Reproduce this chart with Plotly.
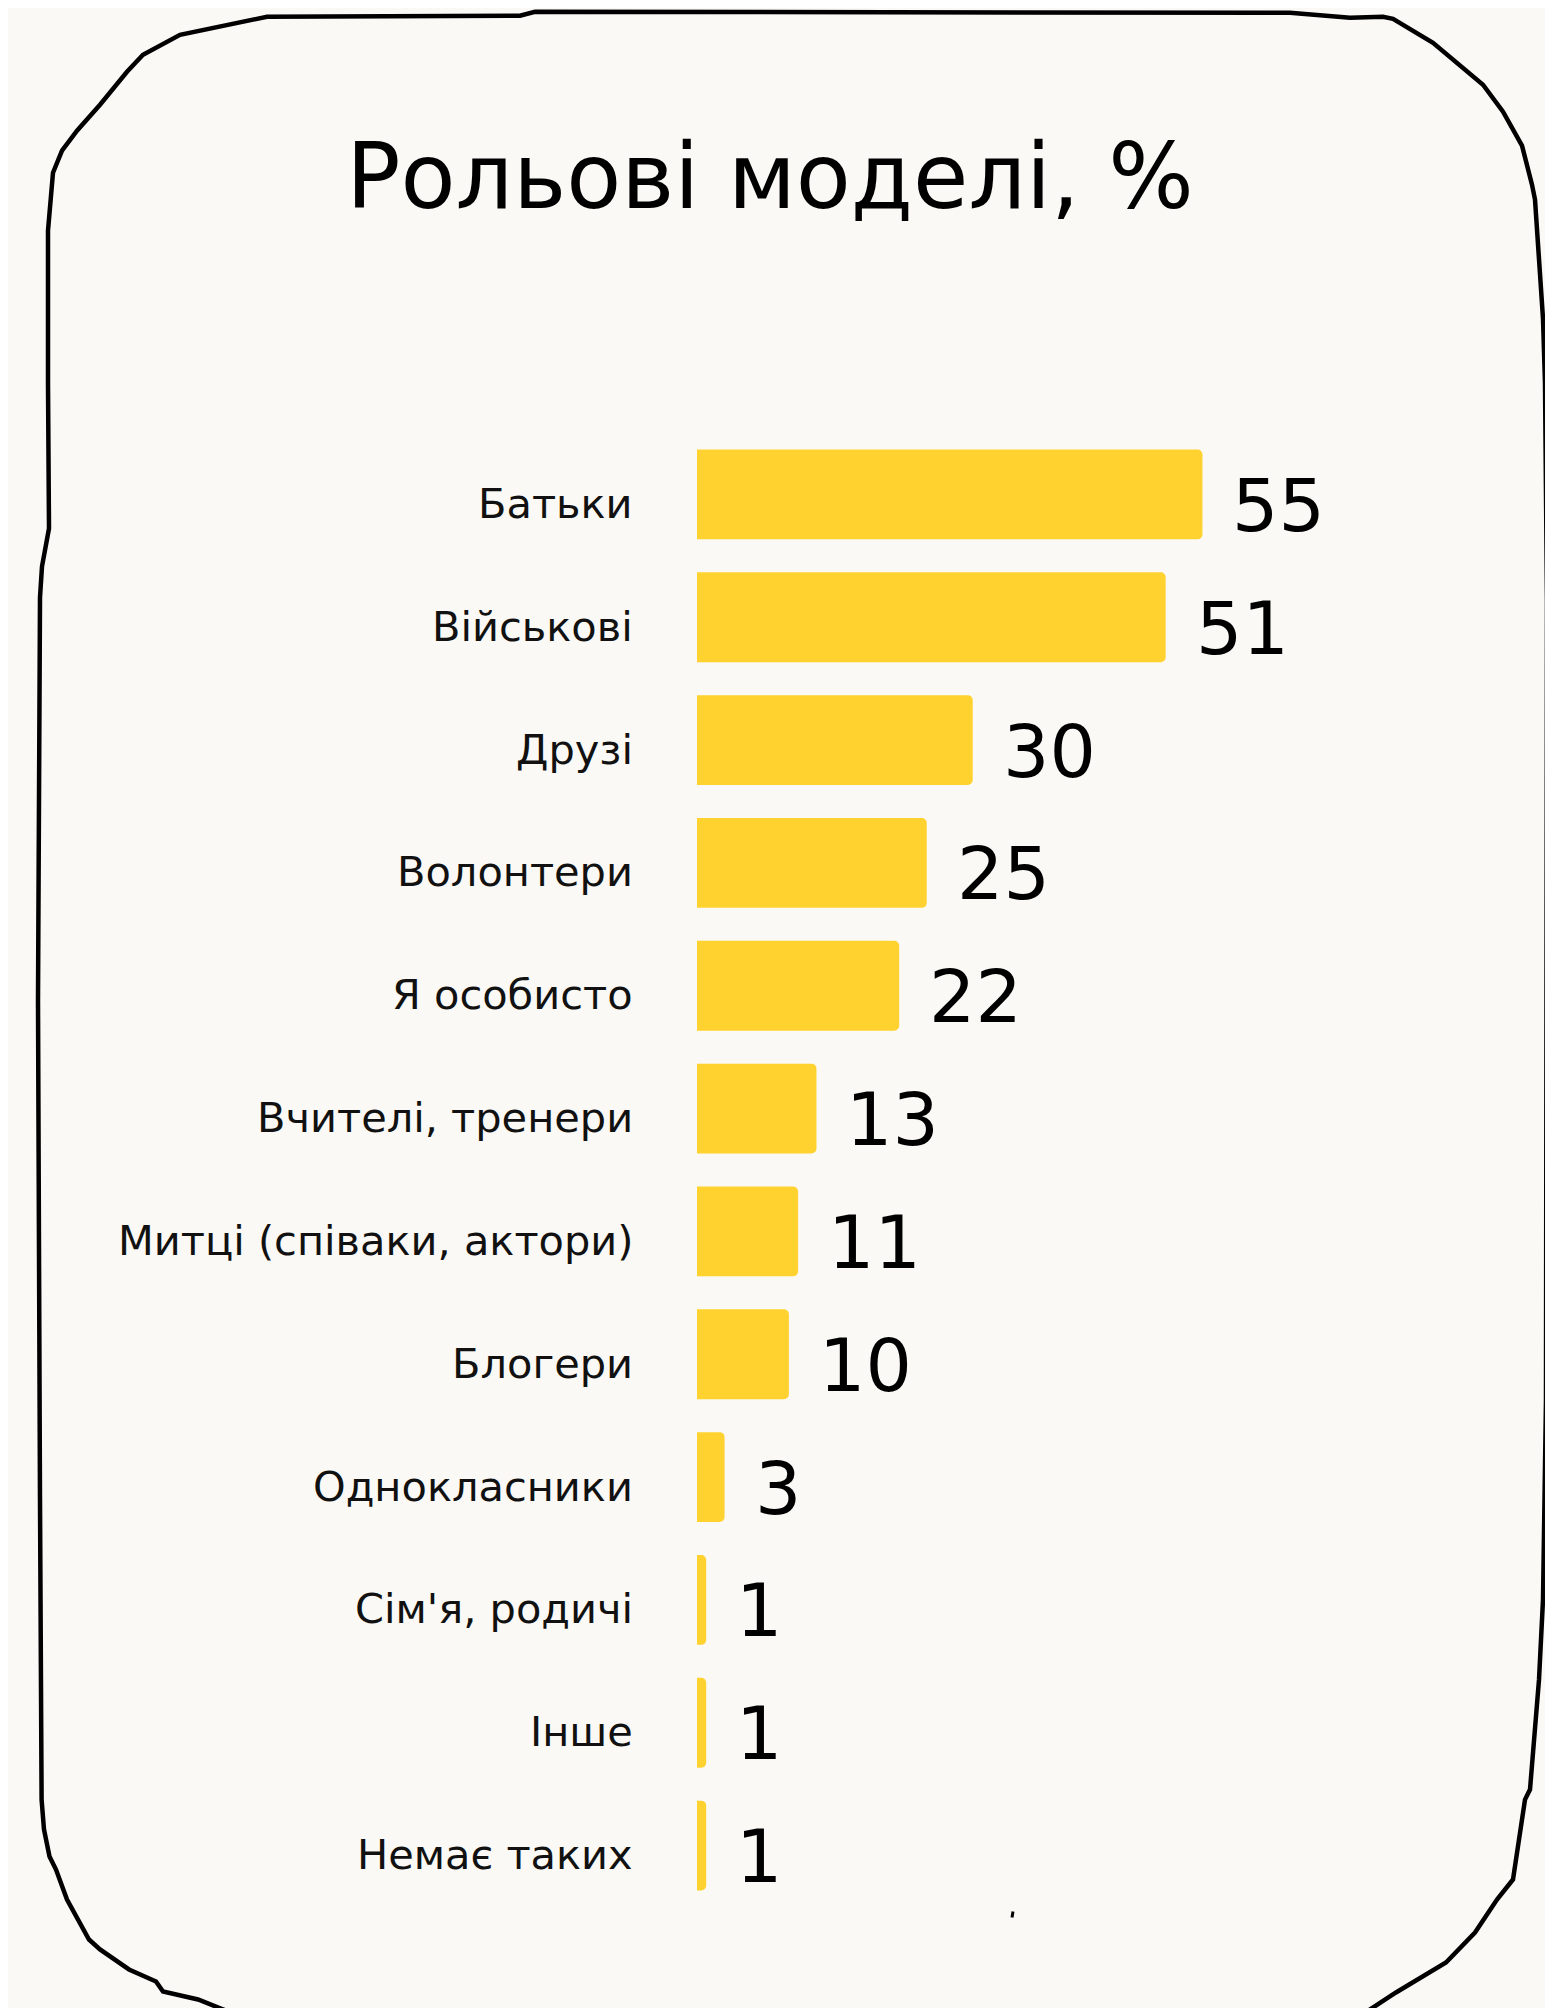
import plotly.graph_objects as go

# ---- data ----
categories = ["Батьки", "Військові", "Друзі", "Волонтери", "Я особисто",
              "Вчителі, тренери", "Митці (співаки, актори)", "Блогери",
              "Однокласники", "Сім'я, родичі", "Інше", "Немає таких"]
values = [55, 51, 30, 25, 22, 13, 11, 10, 3, 1, 1, 1]
title_text = "Рольові моделі, %"

# ---- layout geometry (pixels) ----
OFF = 8                      # default page body margin
W, H = 1553 - 2 * OFF, 2016 - 2 * OFF
ML = 697 - OFF
MT = 432.5 - OFF
PLOT_RIGHT = 1432 - OFF
PLOT_BOTTOM = 1907.5 - OFF
MR = W - PLOT_RIGHT
MB = H - PLOT_BOTTOM
PW = W - ML - MR
PH = H - MT - MB
FONT = "'DejaVu Sans', sans-serif"
BAR_COLOR = "#FFD22F"
BG = "#FAF9F5"


def px2paper(x, y):
    # x, y measured in screen pixels
    x -= OFF
    y -= OFF
    return (x - ML) / PW, (H - MB - y) / PH


def path_from_px(pts):
    s = ""
    for i, (x, y) in enumerate(pts):
        px, py = px2paper(x, y)
        s += ("M" if i == 0 else "L") + f"{px:.5f},{py:.5f} "
    return s


fig = go.Figure()
fig.add_trace(go.Bar(
    x=values, y=categories, orientation="h",
    marker=dict(color=BAR_COLOR, line=dict(width=0)),
    hoverinfo="skip",
))

annotations = []
for c, v in zip(categories, values):
    annotations.append(dict(
        x=0, y=c, xref="x", yref="y", text=c, showarrow=False,
        xanchor="right", yanchor="middle", xshift=-62, yshift=-9,
        font=dict(family=FONT, size=41.5, color="#111111"),
    ))
    annotations.append(dict(
        x=v, y=c, xref="x", yref="y", text=str(v), showarrow=False,
        xanchor="left", yanchor="middle", xshift=28, yshift=-11,
        font=dict(family=FONT, size=73, color="#000000"),
    ))

# hand-drawn frame (screen pixel coordinates)
frame_pts = [
    (238, 2016), (198, 2000), (163, 1992), (156, 1982), (129, 1970), (100, 1950),
    (89, 1940), (67, 1900), (56, 1870), (49.5, 1857), (44, 1830), (41.6, 1800),
    (40, 1500), (38, 1000), (40, 597), (42, 566), (49, 528), (48, 383), (48, 230),
    (53, 172), (62, 150), (77, 130), (100, 104), (127, 71), (143, 54), (180, 34),
    (267, 16), (520, 15), (535, 11), (1290, 12), (1350, 17), (1383, 16),
    (1393, 18), (1433, 42), (1483, 84), (1503, 111), (1522, 145), (1532, 184),
    (1535, 199), (1543, 318), (1545, 383), (1547, 600), (1546, 1400),
    (1543, 1600), (1539, 1680), (1530, 1790), (1525, 1800), (1513, 1880),
    (1497, 1900), (1475, 1933), (1446, 1963), (1396, 1993), (1367, 2012),
    (1330, 2016),
]
shapes = [
    dict(type="path", xref="paper", yref="paper", path=path_from_px(frame_pts),
         line=dict(color="#000000", width=4.5), layer="above"),
    dict(type="path", xref="paper", yref="paper",
         path=path_from_px([(1013, 1912), (1012, 1918)]),
         line=dict(color="#000000", width=3), layer="above"),
]

fig.update_layout(
    width=W, height=H,
    margin=dict(l=ML, r=MR, t=MT, b=MB),
    paper_bgcolor=BG, plot_bgcolor=BG,
    showlegend=False,
    bargap=0.268,
    barcornerradius=5,
    title=dict(text=title_text, xref="container", yref="container",
               x=(770 - OFF) / W, y=1 - (176 - OFF) / H,
               xanchor="center", yanchor="middle",
               font=dict(family=FONT, size=90, color="#000000")),
    xaxis=dict(range=[0, PW / 9.19], visible=False, fixedrange=True),
    yaxis=dict(autorange="reversed", visible=False, fixedrange=True),
    annotations=annotations,
    shapes=shapes,
)

fig.write_html("out.html")
